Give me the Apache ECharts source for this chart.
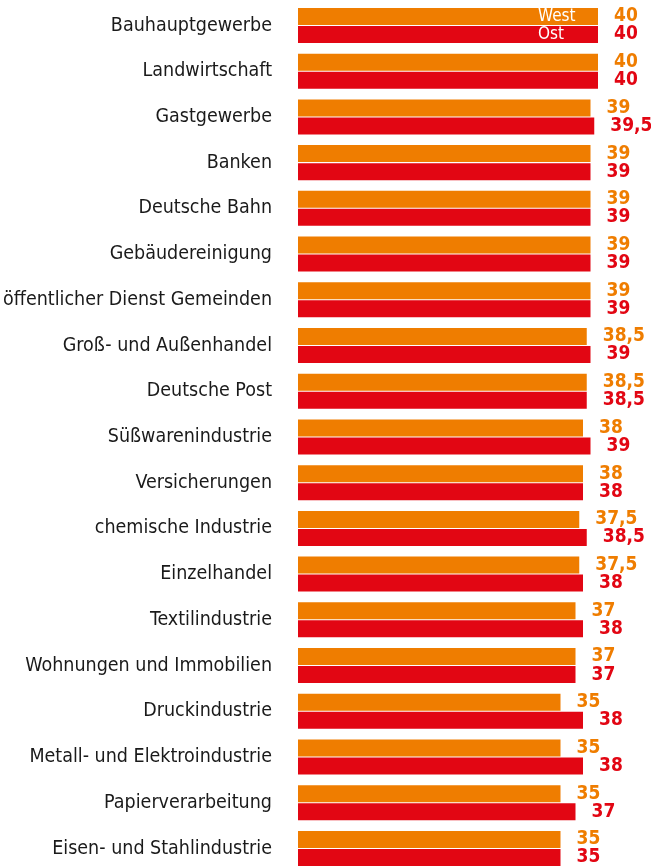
<!DOCTYPE html>
<html><head><meta charset="utf-8">
<script src="https://cdn.jsdelivr.net/npm/echarts@6/dist/echarts.min.js"></script>
<style>html,body{margin:0;padding:0;background:#fff}#c{width:651px;height:866px}</style>
</head><body><div id="c"></div>
<script>
const categories = ["Bauhauptgewerbe","Landwirtschaft","Gastgewerbe","Banken","Deutsche Bahn","Gebäudereinigung","öffentlicher Dienst Gemeinden","Groß- und Außenhandel","Deutsche Post","Süßwarenindustrie","Versicherungen","chemische Industrie","Einzelhandel","Textilindustrie","Wohnungen und Immobilien","Druckindustrie","Metall- und Elektroindustrie","Papierverarbeitung","Eisen- und Stahlindustrie"];
const west = [40,40,39,39,39,39,39,38.5,38.5,38,38,37.5,37.5,37,37,35,35,35,35];
const ost  = [40,40,39.5,39,39,39,39,39,38.5,39,38,38.5,38,38,37,38,38,37,35];
const seriesNames = ["West","Ost"];
const colors = ["#EF7D00","#E20613"];

const fmt = v => String(v).replace('.', ',');
const labelFont = "'DejaVu Sans Condensed','Liberation Sans Narrow',sans-serif";
const chart = echarts.init(document.getElementById('c'), null, {renderer:'canvas'});
function mkSeries(i, data){
  return {
    name: seriesNames[i], type:'bar', data: data,
    barWidth: 17, barGap: '6%', barCategoryGap: '20%',
    itemStyle:{color: colors[i]},
    label:{show:true, position:'right', distance:16, color: colors[i], fontWeight:'bold',
      fontSize:19, fontFamily: labelFont, formatter: p => fmt(p.value)},
    markPoint:{symbol:'circle', symbolSize:0, silent:true,
      data:[{coord:[data[0], categories[0]], value: seriesNames[i]}],
      label:{show:true, position:[-60,0], align:'left', verticalAlign:'middle', color:'#fff',
        fontSize:17, fontFamily: labelFont, formatter: seriesNames[i]}}
  };
}
chart.setOption({
  animation:false,
  grid:{left:298, top:2.6, width:337.5, height:868.7, containLabel:false, outerBoundsMode:'none'},
  xAxis:{type:'value', min:0, max:45, show:false},
  yAxis:{type:'category', data:categories, inverse:true,
    axisLine:{show:false}, axisTick:{show:false}, splitLine:{show:false},
    axisLabel:{margin:26, color:'#1a1a1a', fontSize:19.5, fontFamily: labelFont}},
  series:[mkSeries(0, west), mkSeries(1, ost)]
});
</script></body></html>
